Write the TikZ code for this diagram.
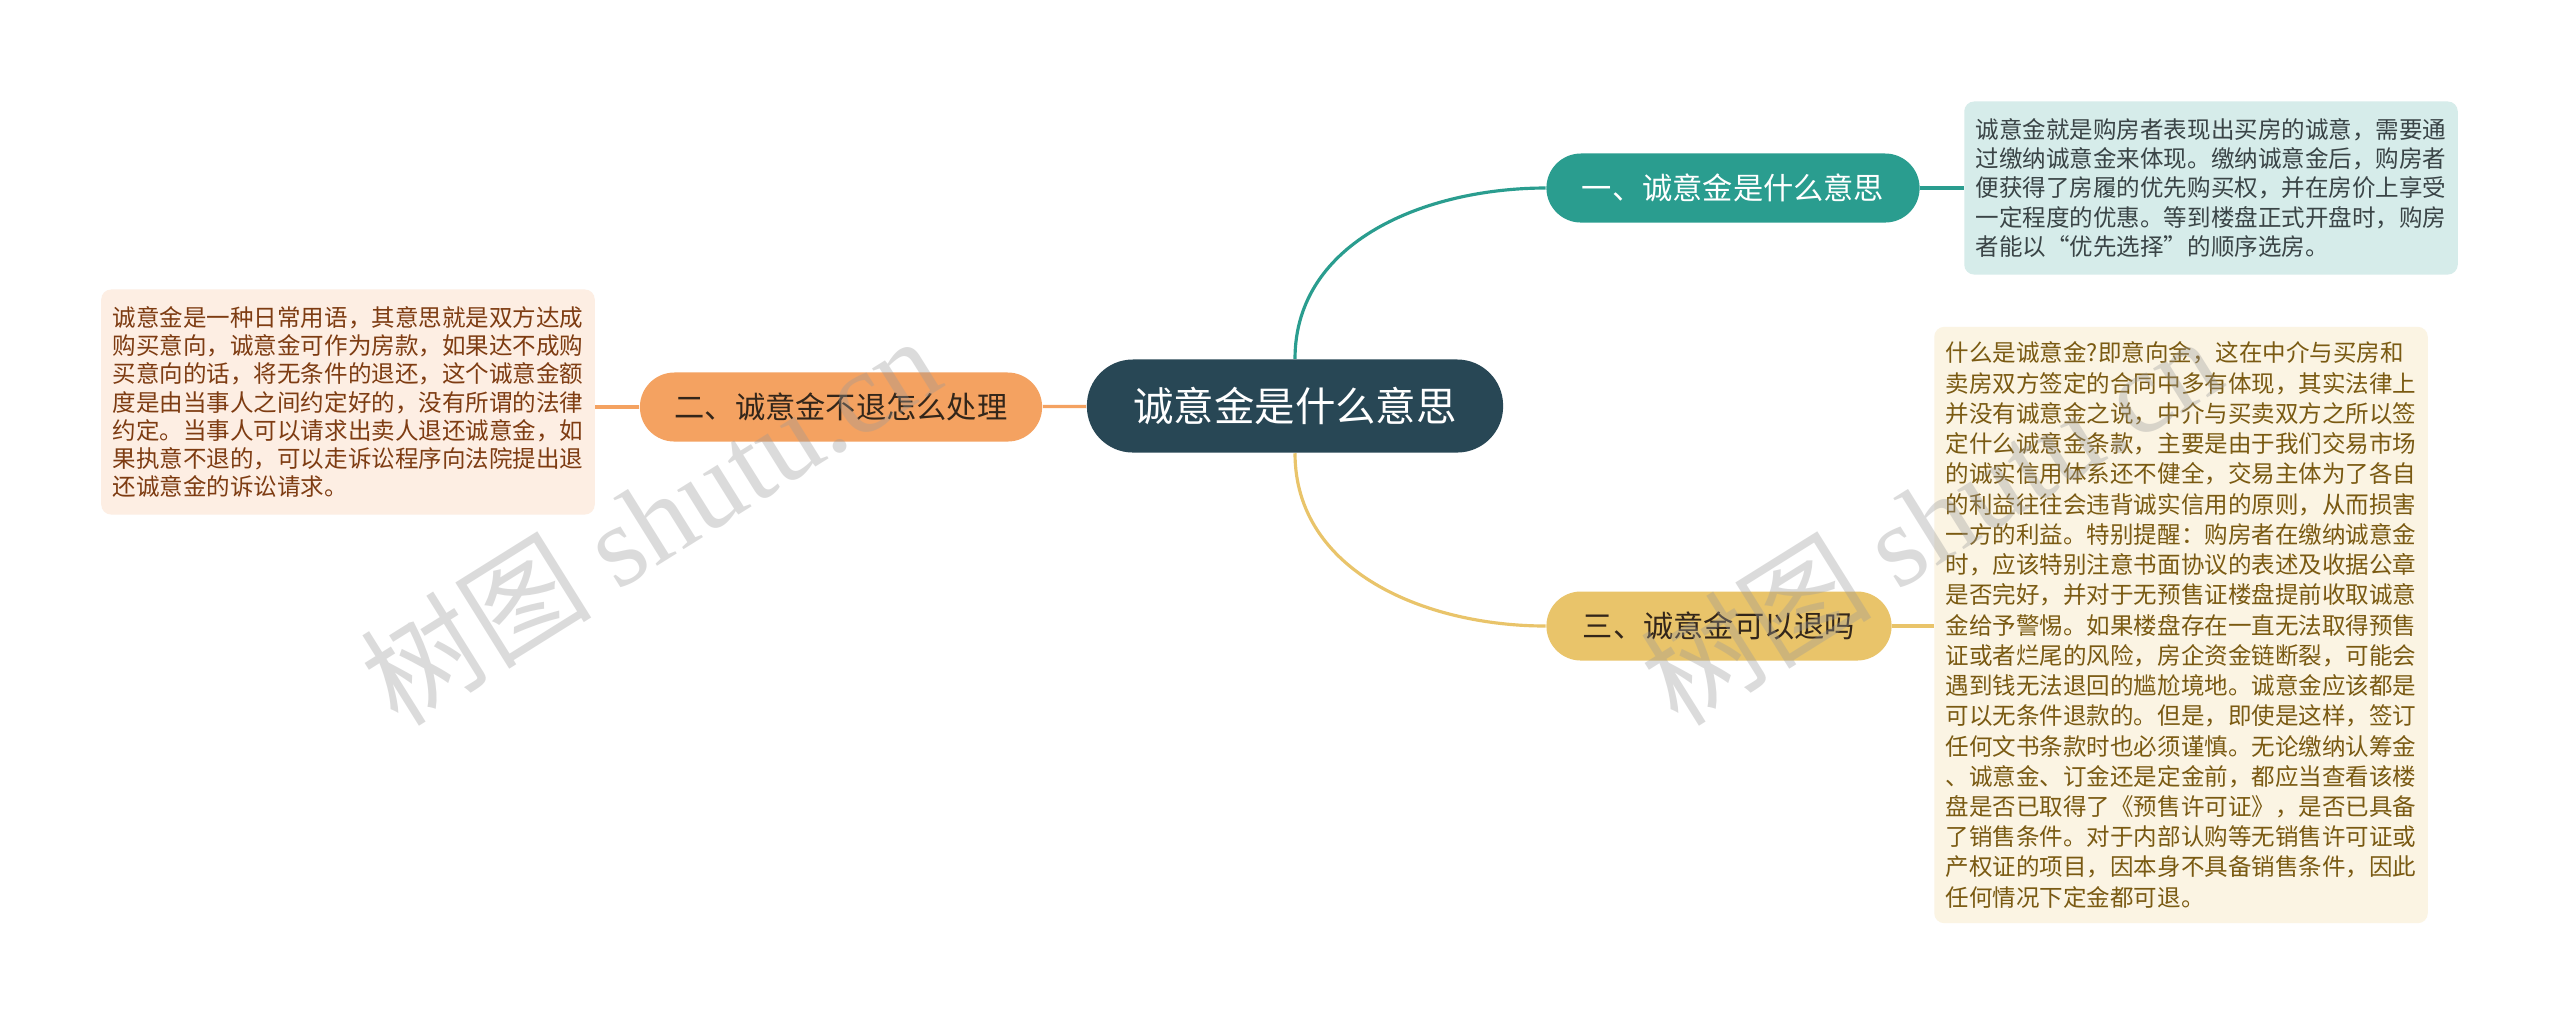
\documentclass[tikz,border=0pt]{standalone}
\usepackage{xcolor}
\usepackage{fontspec}
\usepackage{tikz}
\usetikzlibrary{arrows}
\setmainfont{Noto Sans CJK SC}
\newfontfamily\markfont{Liberation Serif}
\definecolor{rootcol}{HTML}{284755}
\definecolor{tealcol}{HTML}{2A9D8F}
\definecolor{sandcol}{HTML}{E9C46A}
\definecolor{peachcol}{HTML}{F4A261}
\definecolor{tealleaf}{HTML}{D6ECEA}
\definecolor{peachleaf}{HTML}{FDEEE3}
\definecolor{sandleaf}{HTML}{FBF4E3}
\definecolor{tealtext}{HTML}{3A4446}
\definecolor{peachtext}{HTML}{7E3C12}
\definecolor{sandtext}{HTML}{7A5A12}
\definecolor{darktext}{HTML}{33261A}

\begin{document}
\begin{tikzpicture}[x=0.01cm,y=0.01cm,
    topic/.style={rounded corners=0.345cm,minimum height=0.69cm,inner sep=0pt,
        font=\fontsize{8.6pt}{10pt}\selectfont},
    leaf/.style={rounded corners=0.1cm,inner xsep=0.115cm,inner ysep=0pt,align=left,
        minimum width=4.93cm},
    link/.style={line width=0.9pt},
    wmark/.style={text=gray!80,opacity=0.35,font=\fontsize{33pt}{35pt}\selectfont}]
            \useasboundingbox[fill=white] (0,0) rectangle (2560,-1026);

            \node[fill=rootcol,text=white,rounded corners=0.46cm,minimum width=4.16cm,minimum height=0.93cm,
                inner sep=0pt,font=\fontsize{11.5pt}{13pt}\selectfont] (root) at (1295,-406) {诚意金是什么意思};

            \node[topic,fill=tealcol,text=white,minimum width=3.73cm] (b1) at (1733,-188) {一、诚意金是什么意思};
            \node[topic,fill=peachcol,text=darktext,minimum width=4.02cm] (b2) at (841,-407) {二、诚意金不退怎么处理};
            \node[topic,fill=sandcol,text=darktext,minimum width=3.45cm] (b3) at (1719,-626) {三、诚意金可以退吗};

            %%%%%%%%%%%%%%%%
            \node[leaf,fill=tealleaf,text=tealtext,minimum height=1.73cm,
                font=\fontsize{6.69pt}{8.25pt}\selectfont] (l1) at (2211,-188) {诚意金就是购房者表现出买房的诚意，需要通\\
过缴纳诚意金来体现。缴纳诚意金后，购房者\\
便获得了房履的优先购买权，并在房价上享受\\
一定程度的优惠。等到楼盘正式开盘时，购房\\
者能以“优先选择”的顺序选房。};

            \node[leaf,fill=peachleaf,text=peachtext,minimum height=2.25cm,
                font=\fontsize{6.69pt}{8.05pt}\selectfont] (l2) at (348,-402) {诚意金是一种日常用语，其意思就是双方达成\\
购买意向，诚意金可作为房款，如果达不成购\\
买意向的话，将无条件的退还，这个诚意金额\\
度是由当事人之间约定好的，没有所谓的法律\\
约定。当事人可以请求出卖人退还诚意金，如\\
果执意不退的，可以走诉讼程序向法院提出退\\
还诚意金的诉讼请求。};

            \node[leaf,fill=sandleaf,text=sandtext,minimum height=5.96cm,
                font=\fontsize{6.69pt}{8.6pt}\selectfont] (l3) at (2181,-625) {什么是诚意金?即意向金，这在中介与买房和\\
卖房双方签定的合同中多有体现，其实法律上\\
并没有诚意金之说，中介与买卖双方之所以签\\
定什么诚意金条款，主要是由于我们交易市场\\
的诚实信用体系还不健全，交易主体为了各自\\
的利益往往会违背诚实信用的原则，从而损害\\
一方的利益。特别提醒：购房者在缴纳诚意金\\
时，应该特别注意书面协议的表述及收据公章\\
是否完好，并对于无预售证楼盘提前收取诚意\\
金给予警惕。如果楼盘存在一直无法取得预售\\
证或者烂尾的风险，房企资金链断裂，可能会\\
遇到钱无法退回的尴尬境地。诚意金应该都是\\
可以无条件退款的。但是，即使是这样，签订\\
任何文书条款时也必须谨慎。无论缴纳认筹金\\
、诚意金、订金还是定金前，都应当查看该楼\\
盘是否已取得了《预售许可证》，是否已具备\\
了销售条件。对于内部认购等无销售许可证或\\
产权证的项目，因本身不具备销售条件，因此\\
任何情况下定金都可退。};
            %%%%%%%%%%%%%%%%

            \path[link,tealcol] (root) edge[out=90,in=180] (b1);
            \path[link,sandcol] (root) edge[out=270,in=180] (b3);
            \path[link,peachcol] (root) edge (b2);
            \path[link,tealcol] (b1) edge (l1);
            \path[link,peachcol] (b2.west) edge (b2.west -| l2.east);
            \path[link,sandcol] (b3) edge (b3 -| l3.west);

            \node[wmark,rotate=32] (wm1) at (650,-519) {树图 {\markfont shutu.cn}};
            \node[wmark,rotate=32] (wm2) at (1930,-519) {树图 {\markfont shutu.cn}};
        \end{tikzpicture}
\end{document}
